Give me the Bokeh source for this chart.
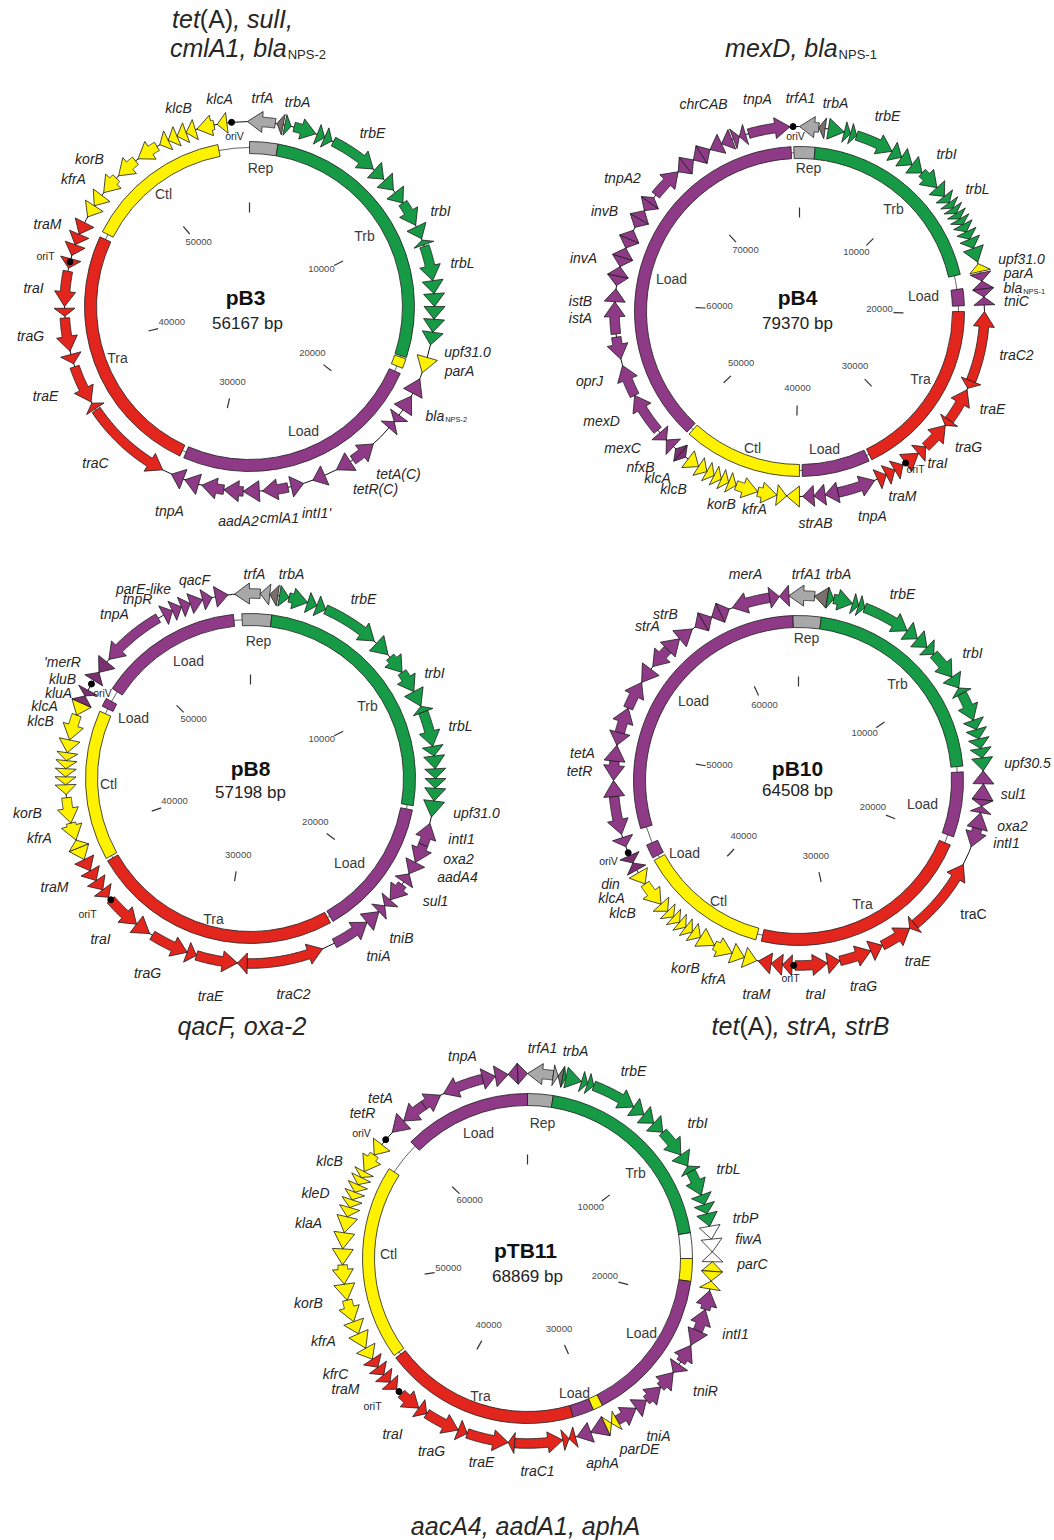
import numpy as np
from bokeh.plotting import figure
from bokeh.models import Range1d
from bokeh.embed import file_html
from bokeh.resources import INLINE
from bokeh.core.properties import value

W, H = 1054, 1540
FONT = "Liberation Sans"

# ------------------------------------------------------------------ data
# module segments: (start bp, end bp, module)
# genes: (start bp, end bp, strand, colour key)

PB3_SIZE = 56167
PB3_SEGMENTS = [(0, 1560, "Rep"), (1560, 16850, "Trb"), (16930, 17470, "Ctl"),
                (17780, 31750, "Load"), (31980, 46020, "Tra"), (46330, 54440, "Ctl")]
PB3_GENES = [
    (-100, 1250, -1, "S"), (1330, 1640, -1, "D"),
    (1720, 2030, 1, "G"), (2180, 3280, 1, "G"), (3350, 3740, 1, "G"), (3740, 4130, 1, "G"),
    (4210, 6550, 1, "G"), (6630, 7250, 1, "G"), (7330, 7960, 1, "G"), (8110, 8740, 1, "G"),
    (8740, 9980, 1, "G"), (10060, 10690, 1, "G"), (10760, 11000, -1, "G"), (11080, 12790, 1, "G"),
    (12790, 13420, 1, "G"), (13420, 14040, 1, "G"), (14040, 14660, 1, "G"), (14660, 15290, 1, "G"),
    (15290, 15910, 1, "G"),
    (16540, 17320, 1, "Y"),
    (17630, 18410, -1, "P"), (18560, 19340, -1, "P"), (19660, 20050, 1, "P"), (20050, 20440, -1, "P"),
    (21530, 22780, -1, "P"), (22930, 23710, 1, "P"), (24340, 24960, 1, "P"), (25430, 26050, -1, "P"),
    (26210, 27460, 1, "P"), (27610, 28390, 1, "P"), (28390, 29330, 1, "P"), (29330, 30420, 1, "P"),
    (30580, 31280, 1, "P"), (31360, 31980, 1, "P"),
    (32450, 36820, -1, "R"), (36890, 37210, 1, "R"), (37280, 39160, -1, "R"), (39310, 39780, -1, "R"),
    (39940, 41570, -1, "R"), (41650, 42040, -1, "R"), (42120, 43840, -1, "R"), (43990, 44460, -1, "R"),
    (44620, 45170, -1, "R"), (45170, 45710, -1, "R"), (45710, 46330, -1, "R"),
    (46640, 47270, -1, "Y"), (47270, 47890, -1, "Y"), (48050, 48980, -1, "Y"), (49140, 50230, -1, "Y"),
    (50390, 51480, -1, "Y"), (51640, 52100, -1, "Y"), (52100, 52570, -1, "Y"), (52570, 53040, -1, "Y"),
    (53040, 53510, -1, "Y"), (53590, 54440, -1, "Y"), (54600, 55070, -1, "Y"),
]
PB3_ORI = [("oriV", 55300), ("oriT", 44300)]

PB4_SIZE = 79370
PB4_SEGMENTS = [(-440, 1210, "Rep"), (1210, 16980, "Trb"), (18080, 19400, "Load"),
                (19850, 33960, "Tra"), (34180, 39470, "Load"), (39690, 48950, "Ctl"),
                (49170, 78720, "Load")]
PB4_GENES = [
    (0, 1320, -1, "S"), (1320, 1760, -1, "D"),
    (1980, 3090, 1, "G"), (3090, 3530, 1, "G"), (3530, 3970, 1, "G"), (3970, 6620, 1, "G"),
    (6620, 7390, 1, "G"), (7390, 8270, 1, "G"), (8270, 9150, 1, "G"), (9150, 10580, 1, "G"),
    (10580, 11360, 1, "G"), (11360, 11910, 1, "G"), (11910, 12350, 1, "G"), (12350, 12790, 1, "G"),
    (12790, 13230, 1, "G"), (13230, 13670, 1, "G"), (13670, 14220, 1, "G"), (14220, 14770, 1, "G"),
    (14770, 15440, 1, "G"), (15440, 16430, 1, "G"),
    (16540, 17090, -1, "Y"),
    (17200, 17750, 1, "P"), (17750, 18300, -1, "P"), (18300, 18850, 1, "P"), (18850, 19400, -1, "P"),
    (19850, 24700, -1, "R"), (24700, 25250, 1, "R"), (25360, 27780, -1, "R"), (27780, 28220, 1, "R"),
    (28220, 30210, -1, "R"), (30210, 30870, -1, "R"), (30870, 31970, -1, "R"), (32190, 32850, -1, "R"),
    (32850, 33520, -1, "R"), (33520, 34180, -1, "R"),
    (34400, 37040, -1, "P"), (37040, 37930, 1, "P"), (37930, 38700, 1, "P"), (38700, 39470, 1, "P"),
    (39690, 40570, 1, "Y"), (40570, 41230, -1, "Y"), (41230, 42560, -1, "Y"), (42560, 44100, -1, "Y"),
    (44100, 44650, -1, "Y"), (44650, 45200, -1, "Y"), (45200, 45750, -1, "Y"), (45750, 46310, -1, "Y"),
    (46310, 46970, -1, "Y"), (46970, 47850, -1, "Y"),
    (48070, 48510, -1, "M"), (48510, 48950, 1, "M"), (49170, 49830, 1, "P"), (49830, 50490, -1, "P"),
    (50720, 53580, 1, "P"), (53580, 55790, 1, "P"), (56230, 57770, -1, "P"), (57990, 60200, 1, "P"),
    (60200, 61080, 1, "P"), (61300, 61960, -1, "P"), (61960, 62620, 1, "P"), (62620, 63280, -1, "P"),
    (63280, 63950, 1, "P"), (63950, 64610, -1, "P"), (64610, 65270, 1, "P"), (65490, 66150, -1, "P"),
    (66150, 66810, 1, "P"), (66810, 67470, -1, "P"), (67470, 67910, 1, "P"), (68130, 70340, 1, "P"),
    (70340, 71000, -1, "P"), (71000, 71660, 1, "P"), (71660, 72320, -1, "P"), (72320, 72990, 1, "P"),
    (72990, 73870, -1, "P"), (73870, 74640, -1, "P"), (74750, 75190, 1, "P"), (75190, 75630, -1, "P"),
    (75850, 78720, 1, "P"),
]
PB4_ORI = [("oriV", 78930), ("oriT", 31970)]

PB8_SIZE = 57198
PB8_SEGMENTS = [(-480, 1190, "Rep"), (1190, 15810, "Trb"), (16050, 23840, "Load"),
                (23990, 38140, "Tra"), (38290, 46720, "Ctl"), (47030, 47510, "Load"),
                (48150, 56250, "Load")]
PB8_GENES = [
    (-790, 480, -1, "S"), (480, 950, -1, "S"), (950, 1350, -1, "D"),
    (1430, 1910, 1, "G"), (1910, 2860, 1, "G"), (2860, 3340, 1, "G"), (3340, 3810, 1, "G"),
    (3810, 6670, 1, "G"), (6830, 7630, 1, "G"), (7790, 8740, 1, "G"), (8740, 9850, 1, "G"),
    (9850, 10650, 1, "G"), (10650, 10960, -1, "G"), (10960, 12710, 1, "G"), (12710, 13190, 1, "G"),
    (13190, 13820, 1, "G"), (13820, 14300, 1, "G"), (14300, 14780, 1, "G"), (14780, 15410, 1, "G"),
    (15410, 16210, 1, "G"),
    (16530, 17640, -1, "P"), (17640, 18590, 1, "P"), (18590, 19230, 1, "P"), (19230, 19700, -1, "P"),
    (19860, 20820, 1, "P"), (20820, 21210, 1, "P"), (21210, 21610, -1, "P"), (21610, 22400, -1, "P"),
    (22400, 24310, -1, "P"),
    (24950, 28760, -1, "R"), (28760, 29240, 1, "R"), (29240, 31300, -1, "R"), (31300, 31780, -1, "R"),
    (31780, 33690, -1, "R"), (33850, 34640, -1, "R"), (34640, 36390, -1, "R"), (36550, 37020, -1, "R"),
    (37020, 37580, -1, "R"), (37580, 38140, -1, "R"), (38140, 38770, -1, "R"),
    (38770, 39410, -1, "Y"), (39410, 39810, 1, "Y"), (39810, 40680, -1, "Y"), (40680, 41950, -1, "Y"),
    (42110, 42590, -1, "Y"), (42590, 42980, -1, "Y"), (42980, 43380, -1, "Y"), (43380, 43780, -1, "Y"),
    (43780, 44170, -1, "Y"), (44170, 44810, -1, "Y"), (44810, 46080, -1, "Y"), (46080, 46720, -1, "Y"),
    (46720, 47110, 1, "M"), (47110, 47430, -1, "M"),
    (47990, 48460, 1, "M"), (48460, 49100, -1, "M"),
    (49260, 52440, -1, "P"), (52750, 53230, 1, "P"), (53230, 53710, 1, "P"), (53710, 54180, 1, "P"),
    (54180, 54820, 1, "P"), (54820, 55300, 1, "P"), (55460, 56090, 1, "P"),
]
PB8_ORI = [("oriV", 47780), ("oriT", 36390)]

PB10_SIZE = 64508
PB10_SEGMENTS = [(-360, 1430, "Rep"), (1430, 15230, "Trb"), (15590, 19710, "Load"),
                 (20250, 34590, "Tra"), (34940, 43190, "Ctl"), (43370, 44260, "Load"),
                 (45340, 64150, "Load")]
PB10_GENES = [
    (-540, 900, -1, "S"), (900, 1610, -1, "D"),
    (1610, 1970, 1, "G"), (1970, 3050, 1, "G"), (3050, 3400, 1, "G"), (3400, 3760, 1, "G"),
    (3760, 6450, 1, "G"), (6450, 7170, 1, "G"), (7170, 7880, 1, "G"), (7880, 8420, 1, "G"),
    (8420, 10040, 1, "G"), (10040, 10750, 1, "G"), (10750, 11110, -1, "G"), (11110, 12720, 1, "G"),
    (12720, 13260, 1, "G"), (13260, 13800, 1, "G"), (13800, 14340, 1, "G"), (14340, 14870, 1, "G"),
    (14870, 15590, 1, "G"),
    (15590, 16310, -1, "P"), (16310, 17200, -1, "P"), (17200, 17560, 1, "P"), (17560, 17920, -1, "P"),
    (17920, 18820, -1, "P"), (18820, 19890, 1, "P"),
    (20970, 25270, -1, "R"), (25270, 25630, 1, "R"), (25630, 27420, -1, "R"), (27420, 28130, -1, "R"),
    (28130, 29930, -1, "R"), (29930, 30640, -1, "R"), (30640, 32440, -1, "R"), (32610, 33150, 1, "R"),
    (33150, 33780, 1, "R"), (33780, 34500, 1, "R"),
    (34590, 35300, -1, "Y"), (35300, 36020, -1, "Y"), (36020, 37090, -1, "Y"), (37090, 37990, -1, "Y"),
    (37990, 38530, -1, "Y"), (38530, 38980, -1, "Y"), (38980, 39420, -1, "Y"), (39420, 39870, -1, "Y"),
    (39870, 40320, -1, "Y"), (40320, 40860, -1, "Y"), (40860, 42290, -1, "Y"), (42290, 43010, -1, "Y"),
    (43190, 43640, 1, "M"), (43640, 44080, -1, "M"),
    (44620, 45160, -1, "P"), (45340, 47490, -1, "P"), (47490, 48380, 1, "P"), (48380, 49460, -1, "P"),
    (49460, 50350, 1, "P"), (50350, 51070, -1, "P"), (51070, 52510, 1, "P"), (52510, 54120, 1, "P"),
    (54120, 55010, -1, "P"), (55190, 56450, -1, "P"), (56450, 57340, 1, "P"), (57340, 58240, 1, "P"),
    (58420, 58960, -1, "P"), (58960, 59490, 1, "P"), (59490, 60030, -1, "P"), (60030, 60570, 1, "P"),
    (60750, 62900, -1, "P"), (62900, 63440, 1, "P"), (63440, 63980, -1, "P"),
]
PB10_ORI = [("oriV", 44260), ("oriT", 32520)]

PTB11_SIZE = 68869
PTB11_SEGMENTS = [(0, 1720, "Rep"), (1720, 15500, "Trb"), (15500, 17220, "Unk"),
                  (17220, 18750, "Ctl"), (18750, 29270, "Load"), (29270, 29940, "Ctl"),
                  (29940, 31370, "Load"), (31370, 44570, "Tra"), (44760, 57960, "Ctl"),
                  (60260, 68869, "Load")]
PTB11_GENES = [
    (0, 1530, -1, "S"), (1530, 1820, 1, "S"), (1820, 2100, -1, "D"),
    (2100, 2300, 1, "G"), (2300, 3250, 1, "G"), (3250, 3630, 1, "G"), (3630, 4020, 1, "G"),
    (4020, 6700, 1, "G"), (6700, 7460, 1, "G"), (7460, 8230, 1, "G"), (8230, 8990, 1, "G"),
    (8990, 10710, 1, "G"), (10710, 11480, 1, "G"), (11480, 11860, -1, "G"), (11860, 13390, 1, "G"),
    (13390, 13970, 1, "G"), (13970, 14540, 1, "G"), (14540, 15300, 1, "G"),
    (15300, 16070, 1, "W"), (16070, 16830, 1, "W"), (16830, 17410, -1, "W"),
    (17410, 17980, -1, "Y"), (17980, 18560, 1, "Y"), (18560, 19030, -1, "Y"),
    (19130, 20280, -1, "P"), (20280, 21620, -1, "P"), (21620, 22570, 1, "P"), (22570, 23720, -1, "P"),
    (23910, 24490, 1, "P"), (24490, 25630, -1, "P"), (25630, 26780, -1, "P"), (26780, 27550, -1, "P"),
    (27550, 28890, -1, "P"),
    (28890, 29270, 1, "Y"), (29270, 29650, -1, "Y"),
    (29650, 30610, 1, "P"), (30610, 31470, 1, "P"),
    (31560, 31950, 1, "R"), (31950, 32330, -1, "R"), (32330, 35200, -1, "R"), (35200, 35580, 1, "R"),
    (35580, 38070, -1, "R"), (38070, 38640, -1, "R"), (38640, 40750, -1, "R"), (40750, 41320, -1, "R"),
    (41320, 42660, -1, "R"), (43040, 43620, -1, "R"), (43620, 44190, -1, "R"), (44190, 44760, -1, "R"),
    (44760, 45340, -1, "R"),
    (45340, 46100, -1, "Y"), (46100, 47060, -1, "Y"), (47060, 47830, -1, "Y"), (47830, 49160, -1, "Y"),
    (49160, 50120, -1, "Y"), (50120, 51270, -1, "Y"), (51270, 52220, -1, "Y"), (52220, 53180, -1, "Y"),
    (53180, 54140, -1, "Y"), (54140, 54710, -1, "Y"), (54710, 55190, -1, "Y"), (55190, 55670, -1, "Y"),
    (55670, 56150, -1, "Y"), (56150, 56620, -1, "Y"), (56620, 57010, -1, "Y"), (57010, 58160, -1, "Y"),
    (58160, 58920, -1, "Y"),
    (59880, 60830, -1, "P"), (60830, 62360, -1, "P"), (62360, 63510, 1, "P"), (63700, 66190, -1, "P"),
    (66190, 66950, 1, "P"), (66950, 67720, 1, "P"), (67720, 68290, -1, "P"), (68290, 68869, 1, "P"),
]
PTB11_ORI = [("oriV", 59300), ("oriT", 42850)]

TICK_STEP = 10000

# resistance determinants written beside each map
TITLES = [
    [("tet", "italic"), ("(A)", "normal"), (", sulI,", "italic")],
    [("cmlA1, bla", "italic"), ("NPS-2", "sub")],
    [("mexD, bla", "italic"), ("NPS-1", "sub")],
    [("qacF, oxa-2", "italic")],
    [("tet", "italic"), ("(A)", "normal"), (", strA, strB", "italic")],
    [("aacA4, aadA1, aphA", "italic")],
]

# ------------------------------------------------------------------ layout / style
TITLE_POS = [(232, 18), (247, 47), (800, 47), (243, 1025), (800, 1025), (525, 1525)]

PB3_LAYOUT = dict(
    center=(249, 306), name_xy=(245, 297), size_xy=(247, 323),
    seg_labels=[("Rep", 260, 167), ("Trb", 364, 235), ("Load", 303, 430), ("Tra", 117, 357), ("Ctl", 163, 193)],
    gene_labels=[("trfA", 262, 97), ("trbA", 297, 101), ("trbE", 372, 132), ("trbI", 440, 210),
                 ("trbL", 462, 262), ("upf31.0", 467, 351), ("parA", 459, 370), ("tetA(C)", 398, 473),
                 ("tetR(C)", 375, 488), ("intI1'", 316, 512), ("cmlA1", 279, 517), ("aadA2", 238, 520),
                 ("tnpA", 169, 510), ("traC", 95, 462), ("traE", 45, 395), ("traG", 30, 335),
                 ("traI", 33, 287), ("traM", 47, 223), ("kfrA", 73, 178), ("korB", 89, 158),
                 ("klcB", 178, 107), ("klcA", 219, 98)],
    sub_labels=[("bla", "NPS-2", 425, 415)],
    ori_labels=[("oriV", 234, 135), ("oriT", 45, 255)],
    upright=[],
)
PB4_LAYOUT = dict(
    center=(799, 311), name_xy=(797, 297), size_xy=(797, 323),
    seg_labels=[("Rep", 808, 167), ("Trb", 893, 208), ("Load", 923, 295), ("Tra", 920, 378),
                ("Load", 824, 448), ("Ctl", 752, 447), ("Load", 671, 278)],
    gene_labels=[("chrCAB", 703, 103), ("tnpA", 757, 98), ("trfA1", 800, 97), ("trbA", 835, 102),
                 ("trbE", 887, 115), ("trbI", 946, 153), ("trbL", 977, 188), ("upf31.0", 1021, 258),
                 ("parA", 1018, 272), ("tniC", 1016, 300), ("traC2", 1016, 354), ("traE", 992, 408),
                 ("traG", 968, 446), ("traI", 937, 462), ("traM", 902, 495), ("tnpA", 872, 515),
                 ("strAB", 815, 522), ("kfrA", 754, 508), ("korB", 721, 503), ("klcB", 673, 488),
                 ("klcA", 657, 477), ("nfxB", 640, 466), ("mexC", 622, 447), ("mexD", 601, 420),
                 ("oprJ", 589, 380), ("istA", 580, 317), ("istB", 580, 300), ("invA", 583, 257),
                 ("invB", 604, 210), ("tnpA2", 622, 177)],
    sub_labels=[("bla", "NPS-1", 1003, 287)],
    ori_labels=[("oriV", 795, 135), ("oriT", 915, 468)],
    upright=[],
)
PB8_LAYOUT = dict(
    center=(250, 778), name_xy=(250, 768), size_xy=(250, 792),
    seg_labels=[("Rep", 258, 640), ("Trb", 367, 705), ("Load", 349, 862), ("Tra", 213, 918),
                ("Ctl", 108, 783), ("Load", 133, 717), ("Load", 188, 660)],
    gene_labels=[("trfA", 254, 573), ("trbA", 291, 573), ("trbE", 363, 598), ("trbI", 434, 672),
                 ("trbL", 460, 725), ("upf31.0", 476, 812), ("intI1", 461, 838), ("oxa2", 458, 858),
                 ("aadA4", 457, 876), ("sul1", 435, 900), ("tniB", 401, 937), ("tniA", 378, 955),
                 ("traC2", 293, 993), ("traE", 210, 995), ("traG", 147, 972), ("traI", 100, 938),
                 ("traM", 54, 886), ("kfrA", 39, 837), ("korB", 27, 812), ("klcB", 40, 720),
                 ("klcA", 44, 705), ("kluA", 58, 692), ("kluB", 62, 678), ("'merR", 62, 661),
                 ("tnpA", 114, 613), ("tnpR", 137, 598), ("parE-like", 143, 588), ("qacF", 194, 579)],
    sub_labels=[],
    ori_labels=[("oriV", 102, 692), ("oriT", 87, 913)],
    upright=[],
)
PB10_LAYOUT = dict(
    center=(798, 780), name_xy=(797, 768), size_xy=(797, 790),
    seg_labels=[("Rep", 806, 637), ("Trb", 897, 683), ("Load", 922, 803), ("Tra", 862, 903),
                ("Ctl", 718, 900), ("Load", 684, 852), ("Load", 693, 700)],
    gene_labels=[("merA", 745, 573), ("trfA1", 806, 573), ("trbA", 838, 573), ("trbE", 902, 593),
                 ("trbI", 972, 652), ("upf30.5", 1027, 762), ("sul1", 1013, 793), ("oxa2", 1012, 825),
                 ("intI1", 1006, 842), ("traC", 973, 913), ("traE", 917, 960), ("traG", 863, 985),
                 ("traI", 815, 993), ("traM", 756, 993), ("kfrA", 713, 978), ("korB", 685, 967),
                 ("klcB", 622, 912), ("klcA", 611, 897), ("din", 610, 883), ("tetR", 579, 770),
                 ("tetA", 582, 752), ("strA", 647, 625), ("strB", 665, 613)],
    sub_labels=[],
    ori_labels=[("oriV", 608, 860), ("oriT", 790, 977)],
    upright=["traC"],
)
PTB11_LAYOUT = dict(
    center=(527, 1258), name_xy=(525, 1250), size_xy=(527, 1276),
    seg_labels=[("Rep", 542, 1122), ("Trb", 635, 1172), ("Load", 641, 1332), ("Load", 574, 1392),
                ("Tra", 480, 1395), ("Ctl", 388, 1253), ("Load", 478, 1132)],
    gene_labels=[("tnpA", 462, 1055), ("trfA1", 542, 1047), ("trbA", 575, 1050), ("trbE", 633, 1070),
                 ("trbI", 697, 1122), ("trbL", 728, 1168), ("trbP", 745, 1217), ("fiwA", 748, 1238),
                 ("parC", 752, 1263), ("intI1", 735, 1333), ("tniR", 705, 1390), ("tniA", 658, 1435),
                 ("parDE", 639, 1448), ("aphA", 602, 1462), ("traC1", 537, 1470), ("traE", 481, 1461),
                 ("traG", 431, 1450), ("traI", 392, 1433), ("traM", 345, 1388), ("kfrC", 335, 1373),
                 ("kfrA", 323, 1340), ("korB", 308, 1302), ("klaA", 308, 1222), ("kleD", 315, 1192),
                 ("klcB", 329, 1160), ("tetR", 362, 1112), ("tetA", 380, 1097)],
    sub_labels=[],
    ori_labels=[("oriV", 361, 1132), ("oriT", 372, 1405)],
    upright=[],
)

MAPS = [
    ("pB3", PB3_SIZE, PB3_SEGMENTS, PB3_GENES, PB3_ORI, PB3_LAYOUT),
    ("pB4", PB4_SIZE, PB4_SEGMENTS, PB4_GENES, PB4_ORI, PB4_LAYOUT),
    ("pB8", PB8_SIZE, PB8_SEGMENTS, PB8_GENES, PB8_ORI, PB8_LAYOUT),
    ("pB10", PB10_SIZE, PB10_SEGMENTS, PB10_GENES, PB10_ORI, PB10_LAYOUT),
    ("pTB11", PTB11_SIZE, PTB11_SEGMENTS, PTB11_GENES, PTB11_ORI, PTB11_LAYOUT),
]

MODULE_COLOR = {"Rep": "#a8a8a8", "Trb": "#169a45", "Load": "#8e3a86", "Tra": "#e2261d",
                "Ctl": "#fff200", "Unk": "#ffffff"}
GENE_COLOR = {"S": "#a8a8a8", "D": "#7a6f6c", "G": "#169a45", "P": "#8e3a86", "M": "#7a2f70",
              "R": "#e2261d", "Y": "#fff200", "W": "#ffffff"}
OUTLINE = "#1e1e1e"
TEXT = "#262626"

R_OUT, R_IN = 165, 153      # module ring
R_GENE = 185                # gene track
HEAD_HW, BODY_HW, HEAD_LEN = 10.5, 4.8, 15.0
TICK_R0, TICK_R1, TICK_LAB_R = 94, 104, 80

# Arial / Liberation Sans advance widths (per 1000 em) for run layout
AW = {' ': 278, '(': 333, ')': 333, ',': 278, '-': 333, '.': 278, "'": 191}
AW.update({c: 556 for c in "0123456789"})
AW.update(dict(A=667, B=667, C=722, D=722, E=667, F=611, I=278, L=556, M=833, N=722, P=667,
               R=722, S=667, T=611, V=667))
AW.update(dict(a=556, b=556, c=500, d=556, e=556, f=278, g=556, h=556, i=222, j=222, k=500,
               l=222, m=833, n=556, o=556, p=556, q=556, r=333, s=500, t=278, u=556, v=500,
               w=722, x=500, y=500, z=500))


def tw(s, px):
    return sum(AW.get(c, 556) for c in s) * px / 1000.0


def theta(bp, size):
    return np.pi / 2 - 2 * np.pi * np.asarray(bp, dtype=float) / size


def polar(cx, cy, r, th):
    return cx + r * np.cos(th), (H - cy) + r * np.sin(th)


def gene_shape(cx, cy, size, a, b, strand):
    tail, head = (a, b) if strand > 0 else (b, a)
    t0, t1 = theta(tail, size), theta(head, size)
    span = R_GENE * abs(t1 - t0)
    if span <= HEAD_LEN * 1.15:
        rr = [R_GENE + HEAD_HW, R_GENE, R_GENE - HEAD_HW]
        tt = [t0, t1, t0]
    else:
        tm = t1 - np.sign(t1 - t0) * HEAD_LEN / R_GENE
        arc = np.linspace(t0, tm, 24)
        rr = list(np.full(arc.size, R_GENE + BODY_HW)) + [R_GENE + HEAD_HW, R_GENE, R_GENE - HEAD_HW] \
            + list(np.full(arc.size, R_GENE - BODY_HW))
        tt = list(arc) + [tm, t1, tm] + list(arc[::-1])
    x, y = polar(cx, cy, np.array(rr), np.array(tt))
    return list(x), list(y)


p = figure(width=W, height=H, x_range=Range1d(0, W), y_range=Range1d(0, H),
           output_backend="svg", toolbar_location=None, min_border=0,
           x_axis_location=None, y_axis_location=None)
p.grid.visible = False
p.outline_line_color = None
p.background_fill_color = "white"
p.border_fill_color = "white"

for name, size, segs, genes, oris, lay in MAPS:
    cx, cy = lay["center"]
    Y = H - cy

    # thin backbones
    p.circle(x=[cx], y=[Y], radius=(R_OUT + R_IN) / 2, fill_color=None, line_color="#555555", line_width=0.9)
    p.circle(x=[cx], y=[Y], radius=R_GENE, fill_color=None, line_color="#111111", line_width=1.0)

    # module ring
    p.annular_wedge(x=[cx] * len(segs), y=[Y] * len(segs), inner_radius=R_IN, outer_radius=R_OUT,
                    start_angle=[float(theta(s[1], size)) for s in segs],
                    end_angle=[float(theta(s[0], size)) for s in segs],
                    fill_color=[MODULE_COLOR[s[2]] for s in segs], line_color=OUTLINE, line_width=0.8)

    # genes
    xs, ys, cols = [], [], []
    for a, b, strand, key in genes:
        gx, gy = gene_shape(cx, cy, size, a, b, strand)
        xs.append(gx); ys.append(gy); cols.append(GENE_COLOR[key])
    p.patches(xs=xs, ys=ys, fill_color=cols, line_color=OUTLINE, line_width=0.8)

    # replication / transfer origins
    ox, oy = polar(cx, cy, R_GENE, theta([o[1] for o in oris], size))
    p.scatter(x=list(ox), y=list(oy), size=6, color="#000000")

    # coordinate ticks
    ticks = np.arange(0, size, TICK_STEP)
    th = theta(ticks, size)
    x0, y0 = polar(cx, cy, TICK_R0, th)
    x1, y1 = polar(cx, cy, TICK_R1, th)
    p.segment(x0=list(x0), y0=list(y0), x1=list(x1), y1=list(y1), line_color="#333333", line_width=1.2)
    lx, ly = polar(cx, cy, TICK_LAB_R, th[1:])
    p.text(x=list(lx), y=list(ly + 3), text=[str(int(t)) for t in ticks[1:]],
           text_font=value(FONT), text_font_size="9.5px", text_color="#4a4a4a",
           text_align="center", text_baseline="middle")

    # module labels
    sl = lay["seg_labels"]
    p.text(x=[s[1] for s in sl], y=[H - s[2] for s in sl], text=[s[0] for s in sl],
           text_font=value(FONT), text_font_size="14px", text_color="#3a3a3a",
           text_align="center", text_baseline="middle")

    # gene labels
    for upright in (False, True):
        gl = [g for g in lay["gene_labels"] if (g[0] in lay["upright"]) == upright]
        if not gl:
            continue
        p.text(x=[g[1] for g in gl], y=[H - g[2] for g in gl], text=[g[0] for g in gl],
               text_font=value(FONT), text_font_size="14px",
               text_font_style="normal" if upright else "italic", text_color=TEXT,
               text_align="center", text_baseline="middle")
    for main, sub, x, y in lay["sub_labels"]:
        p.text(x=[x], y=[H - y], text=[main], text_font=value(FONT), text_font_size="14px",
               text_font_style="italic", text_color=TEXT, text_align="left", text_baseline="middle")
        p.text(x=[x + tw(main, 14) + 1], y=[H - y - 4], text=[sub], text_font=value(FONT),
               text_font_size="7.5px", text_color=TEXT, text_align="left", text_baseline="middle")

    ol = lay["ori_labels"]
    p.text(x=[o[1] for o in ol], y=[H - o[2] for o in ol], text=[o[0] for o in ol],
           text_font=value(FONT), text_font_size="10.5px", text_color=TEXT,
           text_align="center", text_baseline="middle")

    # plasmid name and length
    nx, ny = lay["name_xy"]
    p.text(x=[nx], y=[H - ny], text=[name], text_font=value(FONT), text_font_size="21px",
           text_font_style="bold", text_color="#111111", text_align="center", text_baseline="middle")
    sx, sy = lay["size_xy"]
    p.text(x=[sx], y=[H - sy], text=[f"{size} bp"], text_font=value(FONT), text_font_size="17px",
           text_color="#222222", text_align="center", text_baseline="middle")

# resistance gene captions, laid out run by run
TITLE_PX, SUB_PX = 25, 13
for runs, (tx, ty) in zip(TITLES, TITLE_POS):
    widths = [tw(t, SUB_PX if st == "sub" else TITLE_PX) for t, st in runs]
    x = tx - sum(widths) / 2
    for (t, st), w in zip(runs, widths):
        if st == "sub":
            p.text(x=[x + 1], y=[H - ty - 7], text=[t], text_font=value(FONT),
                   text_font_size=f"{SUB_PX}px", text_color=TEXT, text_align="left",
                   text_baseline="middle")
        else:
            p.text(x=[x], y=[H - ty], text=[t], text_font=value(FONT),
                   text_font_size=f"{TITLE_PX}px", text_font_style=st, text_color=TEXT,
                   text_align="left", text_baseline="middle")
        x += w

open("out.html", "w").write(file_html(p, INLINE))
